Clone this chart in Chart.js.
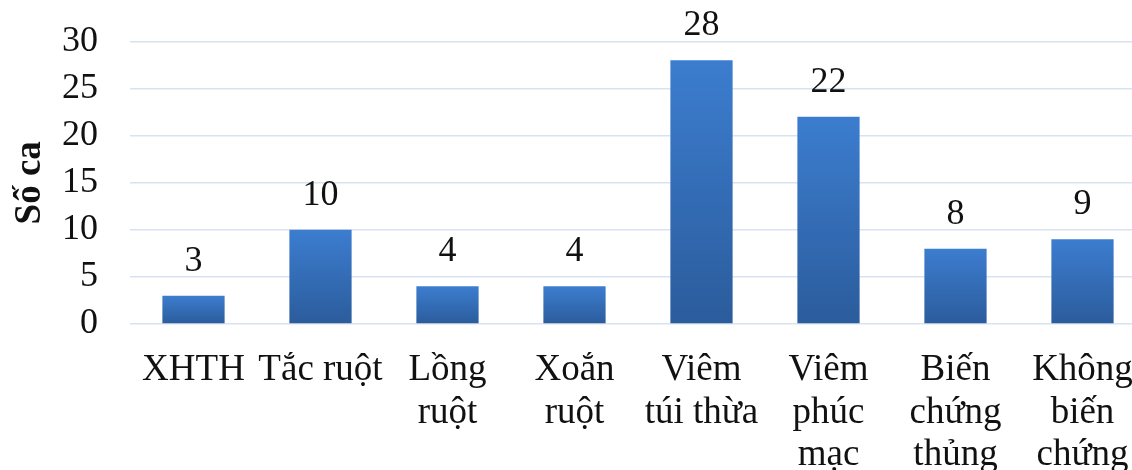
<!DOCTYPE html>
<html>
<head>
<meta charset="utf-8">
<script src="https://cdn.jsdelivr.net/npm/chart.js@4.4.1/dist/chart.umd.min.js"></script>
<style>
  html, body { margin: 0; padding: 0; background: #ffffff; overflow: hidden; }
  #wrap { width: 1146px; height: 470px; }
</style>
</head>
<body>
<div id="wrap"><canvas id="c" width="1146" height="470"></canvas></div>
<script>
// Categories (multi-line labels) and case counts
const categories = [
  ['XHTH'],
  ['Tắc ruột'],
  ['Lồng', 'ruột'],
  ['Xoắn', 'ruột'],
  ['Viêm', 'túi thừa'],
  ['Viêm', 'phúc', 'mạc'],
  ['Biến', 'chứng', 'thủng'],
  ['Không', 'biến', 'chứng']
];
const caseCounts = [3, 10, 4, 4, 28, 22, 8, 9];
const yTicks = [0, 5, 10, 15, 20, 25, 30];

const FONT = '"Liberation Serif", "Times New Roman", serif';
const TEXT = '#111111';
const GRID = '#d9e2f0';

// Vertical gradient spanning each bar from its top to the baseline
function barFill(ctx) {
  const chart = ctx.chart;
  const ys = chart.scales && chart.scales.y;
  if (!chart.chartArea || !ys || ctx.parsed === undefined) return '#3570bd';
  const top = ys.getPixelForValue(ctx.parsed.y);
  const base = ys.getPixelForValue(0);
  if (!isFinite(top) || !isFinite(base) || base - top < 1) return '#3570bd';
  const g = chart.ctx.createLinearGradient(0, top, 0, base);
  g.addColorStop(0, '#3c7dcf');
  g.addColorStop(1, '#2b5c9c');
  return g;
}

// Value labels above each bar
const valueLabels = {
  id: 'valueLabels',
  afterDatasetsDraw(chart) {
    const { ctx } = chart;
    const meta = chart.getDatasetMeta(0);
    ctx.save();
    ctx.font = '36px ' + FONT;
    ctx.fillStyle = TEXT;
    ctx.textAlign = 'center';
    ctx.textBaseline = 'alphabetic';
    meta.data.forEach((bar, i) => {
      ctx.fillText(String(caseCounts[i]), bar.x, bar.y - 25);
    });
    ctx.restore();
  }
};

new Chart(document.getElementById('c'), {
  type: 'bar',
  data: {
    labels: categories,
    datasets: [{
      data: caseCounts,
      backgroundColor: barFill,
      borderWidth: 0,
      barPercentage: 0.49,
      categoryPercentage: 1.0
    }]
  },
  options: {
    responsive: false,
    animation: false,
    events: [],
    layout: { padding: { top: 41.5, left: 0, right: 0, bottom: 0 } },
    plugins: {
      legend: { display: false },
      tooltip: { enabled: false }
    },
    scales: {
      x: {
        offset: true,
        grid: { display: false, drawTicks: false },
        border: { display: false },
        ticks: {
          autoSkip: false,
          maxRotation: 0,
          minRotation: 0,
          padding: 25,
          color: TEXT,
          font: { family: FONT, size: 37, lineHeight: 1.15 }
        },
        afterFit(scale) {
          scale.height = 146;
          scale.paddingLeft = 0;
          scale.paddingRight = 0;
        }
      },
      y: {
        min: 0,
        max: 30,
        afterBuildTicks(scale) { scale.ticks = yTicks.map(v => ({ value: v })); },
        grid: { color: GRID, lineWidth: 1.5, drawTicks: false },
        border: { display: false },
        ticks: {
          autoSkip: false,
          padding: 32,
          color: TEXT,
          font: { family: FONT, size: 36 }
        },
        title: {
          display: true,
          text: 'Số ca',
          color: TEXT,
          padding: { top: 10, bottom: 0 },
          font: { family: FONT, size: 37, weight: 'bold', lineHeight: 1.1 }
        },
        afterFit(scale) {
          scale.width = 130;
          scale.paddingTop = 0;
          scale.paddingBottom = 0;
        }
      }
    }
  },
  plugins: [valueLabels]
});
</script>
</body>
</html>
